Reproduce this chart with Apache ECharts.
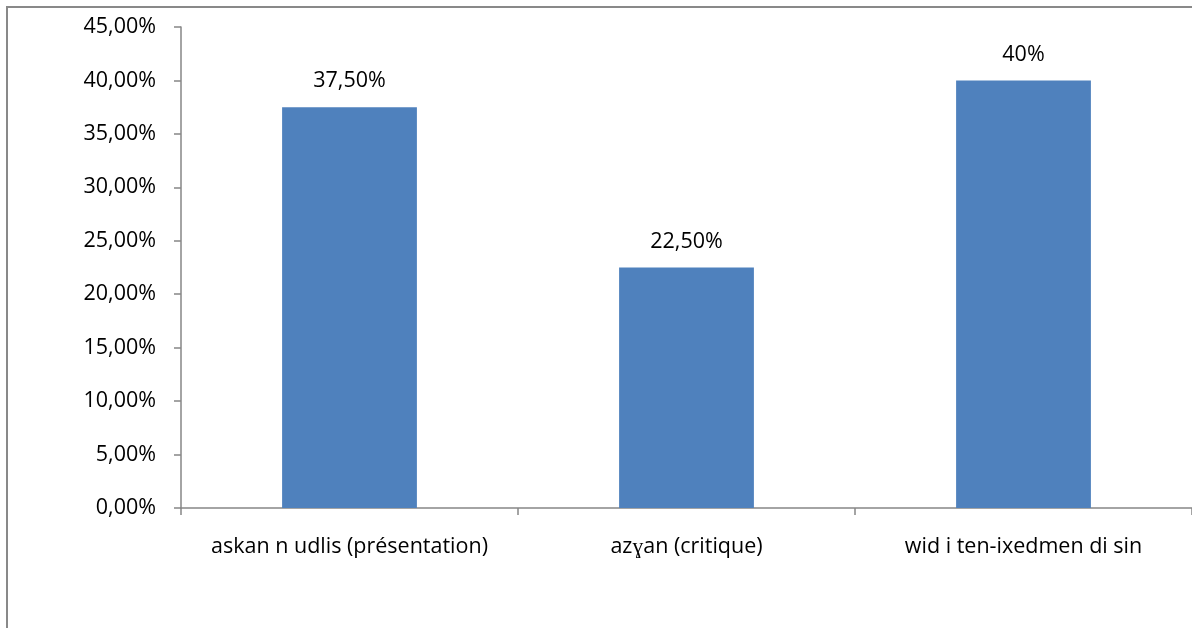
<!DOCTYPE html>
<html>
<head>
<meta charset="utf-8">
<script src="https://cdn.jsdelivr.net/npm/echarts@6/dist/echarts.min.js"></script>
<style>
html,body{margin:0;padding:0;background:#fff;}
#c{width:1192px;height:628px;}
</style>
</head>
<body>
<div id="c"></div>
<script>
var categories = ['askan n udlis (présentation)', 'azɣan (critique)', 'wid i ten-ixedmen di sin'];
var values = [37.5, 22.5, 40];
var valueLabels = ['37,50%', '22,50%', '40%'];

var chart = echarts.init(document.getElementById('c'));
var font = 'Open Sans';
chart.setOption({
  animation: false,
  backgroundColor: '#fff',
  graphic: [{
    type: 'rect',
    shape: {x: 7, y: 7, width: 1200, height: 640},
    style: {fill: 'none', stroke: '#898989', lineWidth: 2},
    silent: true
  }],
  grid: {left: 181, top: 27, width: 1014, height: 481, containLabel: false},
  xAxis: {
    type: 'category',
    data: categories,
    axisLine: {lineStyle: {color: '#868686', width: 1.5}},
    axisTick: {show: true, alignWithLabel: false, length: 7, lineStyle: {color: '#868686', width: 1.5}},
    axisLabel: {color: '#000', fontFamily: font, fontSize: 21.5, margin: 28, interval: 0},
    splitLine: {show: false}
  },
  yAxis: {
    type: 'value',
    min: 0, max: 45, interval: 5,
    axisLine: {show: true, lineStyle: {color: '#868686', width: 1.5}},
    axisTick: {show: true, length: 7, lineStyle: {color: '#868686', width: 1.5}},
    axisLabel: {color: '#000', fontFamily: font, fontSize: 21.5, margin: 25,
      formatter: function (v) { return v.toFixed(2).replace('.', ',') + '%'; }},
    splitLine: {show: false}
  },
  series: [{
    type: 'bar',
    data: values,
    barWidth: '40%',
    itemStyle: {color: '#4F81BD'},
    label: {
      show: true, position: 'top', distance: 15,
      color: '#000', fontFamily: font, fontSize: 21.5,
      formatter: function (p) { return valueLabels[p.dataIndex]; }
    }
  }]
});
</script>
</body>
</html>
